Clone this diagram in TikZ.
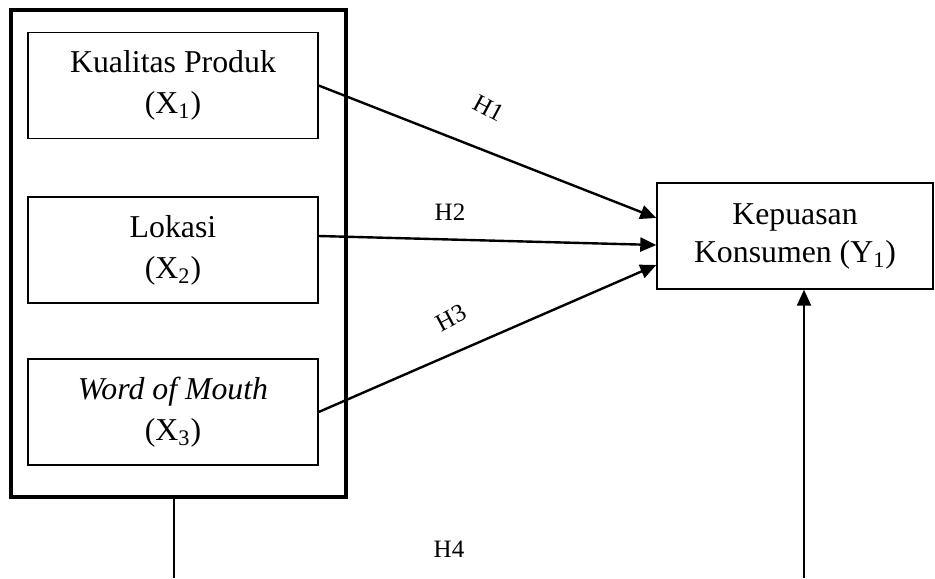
\documentclass[tikz,border=0pt]{standalone}
\usepackage{fontspec}
\setmainfont{Liberation Serif}
\usetikzlibrary{arrows.meta,calc}
\tikzset{
  var/.style={draw, line width=0.7pt, align=center, inner sep=0pt,
    minimum width=145pt, minimum height=53pt,
    font=\fontsize{15.9}{20.5}\selectfont},
  group/.style={draw, line width=2pt, inner sep=0pt,
    minimum width=167.5pt, minimum height=243.5pt},
  link/.style={line width=1.2pt, -{Triangle[length=8pt,width=7pt]}},
  hlab/.style={font=\fontsize{12.5}{14}\selectfont, inner sep=0pt}
}
\begin{document}
\begin{tikzpicture}[x=0.5pt,y=-0.5pt]
  \useasboundingbox (0,0) rectangle (935,578);

  % grouping frame around the independent variables
  \node[group] (outer) at (178.5,253.5) {};

  % independent variables
  \node[var] (x1) at (173,85.5) {Kualitas Produk\\(X\textsubscript{1})};
  \node[var] (x2) at (173,250) {Lokasi\\(X\textsubscript{2})};
  \node[var] (x3) at (173,412) {\textit{Word of Mouth}\\(X\textsubscript{3})};

  % dependent variable
  \node[var, minimum width=138pt, font=\fontsize{15.9}{19}\selectfont]
    (ky) at (795,236) {Kepuasan\\Konsumen (Y\textsubscript{1})};

  % partial effects
  \draw[link] (x1.east) -- ($(ky.west)+(0,-18)$);
  \draw[link] ($(x2.east)+(0,-14)$) -- ($(ky.west)+(0,9)$);
  \draw[link] (x3.east) -- ($(ky.west)+(0,29)$);

  \node[hlab, rotate=-28] (h1) at (489,108) {H1};
  \node[hlab] (h2) at (450,212) {H2};
  \node[hlab, rotate=28] (h3) at (451,318) {H3};

  % simultaneous effect
  \coordinate (lb) at (174,578);
  \coordinate (rb) at (804,578);
  \draw[line width=1pt] (lb |- outer.south) -- (lb);
  \draw[link] (rb) -- (rb |- ky.south);
  \node[hlab] (h4) at (449,549) {H4};
\end{tikzpicture}
\end{document}
